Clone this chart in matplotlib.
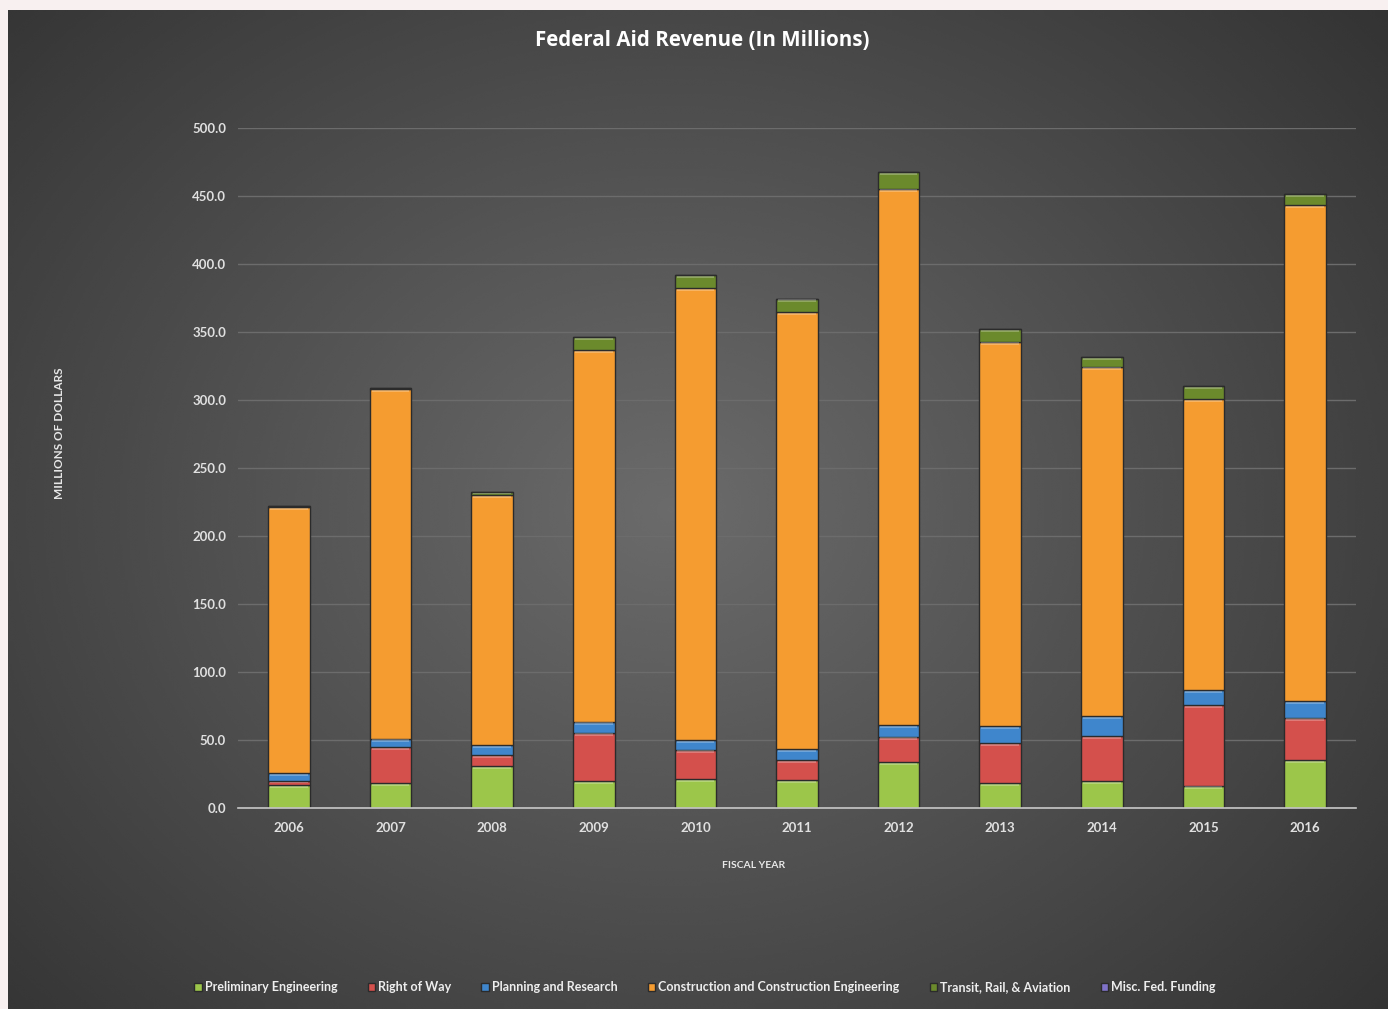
import numpy as np
import matplotlib.pyplot as plt

years = ['2006', '2007', '2008', '2009', '2010', '2011', '2012', '2013', '2014', '2015', '2016']

prelim_eng = [17, 18.5, 31, 19.5, 21, 20.5, 34, 18.5, 20, 16.5, 35]
right_of_way = [2.5, 26, 8, 36, 22, 15, 18.5, 29.5, 33, 59, 31.5]
planning = [6, 6.5, 7, 8, 7, 8, 8.5, 12.5, 14.5, 11, 12]
construction = [196, 257, 184, 273, 332, 321, 394.5, 282.5, 257, 214, 365]
transit = [0.5, 1, 2, 9.5, 10, 10, 12, 9, 7, 9.5, 8]
misc_fed = [0, 0, 0, 0, 0, 0, 0, 0, 0, 0, 0]

series_names = ['Preliminary Engineering', 'Right of Way', 'Planning and Research',
                'Construction and Construction Engineering', 'Transit, Rail, & Aviation',
                'Misc. Fed. Funding']
series_colors = ['#9cc64a', '#d4504c', '#3f86cc', '#f59c30', '#6b8a2c', '#7f72c8']

plt.rcParams['font.family'] = ['Lato', 'DejaVu Sans']

fig = plt.figure(figsize=(13.88, 10.09), dpi=100)
fig.patch.set_facecolor('#f8f0f0')

# dark panel with a soft radial light in the middle
bg = fig.add_axes([8 / 1388, 0, 1380 / 1388, 999 / 1009])
yy, xx = np.mgrid[0:1:400j, 0:1:560j]
r = np.sqrt(((xx - 0.48) / 0.75) ** 2 + ((yy - 0.5) / 0.85) ** 2)
shade = np.clip(0.42 - 0.24 * r, 0.2, 0.42)
bg.imshow(shade, cmap='gray', vmin=0, vmax=1, aspect='auto', extent=[0, 1, 0, 1],
          interpolation='bicubic')
bg.set_axis_off()

ax = fig.add_axes([238 / 1388, 1 - 808 / 1009, (1356 - 238) / 1388, 680 / 1009])
ax.patch.set_alpha(0)

x = np.arange(len(years))
data = [prelim_eng, right_of_way, planning, construction, transit, misc_fed]
bottom = np.zeros(len(years))
handles = []
for vals, name, col in zip(data, series_names, series_colors):
    vals = np.array(vals, dtype=float)
    bars = ax.bar(x, vals, width=0.41, bottom=bottom, color=col,
                  edgecolor='#2b2b2b', linewidth=1.0, label=name, zorder=3)
    # glossy highlight on the upper edge of each segment
    hl = np.minimum(vals * 0.25, 1.6)
    ax.bar(x, hl, width=0.37, bottom=bottom + vals - hl - 0.6, color='white',
           alpha=0.25, linewidth=0, zorder=4)
    handles.append(bars)
    bottom += vals

ax.set_xlim(-0.5, len(years) - 0.5)
ax.set_ylim(0, 500)
ax.set_yticks(np.arange(0, 501, 50))
ax.set_yticklabels([f'{v:.1f}' for v in np.arange(0, 501, 50)])
ax.set_xticks(x)
ax.set_xticklabels(years)
ax.tick_params(length=0, colors='#e0e0e0', labelsize=9.5)
ax.tick_params(axis='x', pad=10)
ax.tick_params(axis='y', pad=8.5)
for lab in ax.get_xticklabels() + ax.get_yticklabels():
    lab.set_fontweight('bold')
ax.grid(axis='y', color='#6c6c6c', linewidth=1, zorder=0)
for s in ['top', 'right', 'left']:
    ax.spines[s].set_visible(False)
ax.spines['bottom'].set_color('#c8c8c8')
ax.spines['bottom'].set_linewidth(1.2)
ax.spines['bottom'].set_zorder(5)

fig.text(702 / 1388, 1 - 41 / 1009, 'Federal Aid Revenue (In Millions)', ha='center',
         va='center', color='white', fontsize=14.8, fontweight='bold',
         family=['Open Sans', 'DejaVu Sans'])
fig.text(60 / 1388, 1 - 433 / 1009, 'MILLIONS OF DOLLARS', rotation=90, ha='center',
         va='center', color='#e8e8e8', fontsize=8.5, fontweight='bold')
fig.text(754 / 1388, 1 - 865 / 1009, 'FISCAL YEAR', ha='center', va='center',
         color='#e8e8e8', fontsize=7.5, fontweight='bold')

leg = fig.legend(handles, series_names, loc='center', bbox_to_anchor=(705 / 1388, 1 - 987 / 1009),
                 ncol=6, frameon=False, handlelength=0.6, handleheight=0.6,
                 handletextpad=0.25, columnspacing=2.4, fontsize=9)
for t in leg.get_texts():
    t.set_color('#eeeeee')
    t.set_fontweight('bold')

fig.savefig('out.png', dpi=100, facecolor=fig.get_facecolor())
